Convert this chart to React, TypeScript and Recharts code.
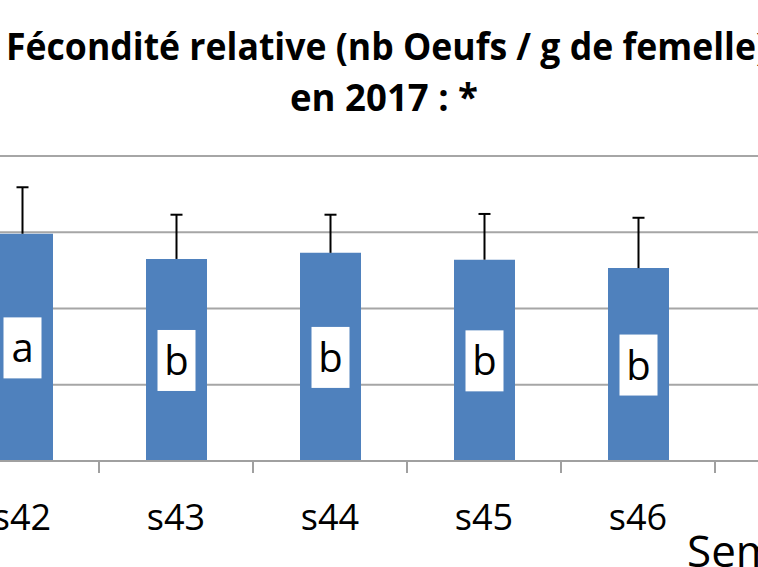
import React from "react";
import { BarChart, Bar, XAxis, YAxis, CartesianGrid, LabelList } from "recharts";

// semaines visibles
const weeks = ["s42", "s43", "s44", "s45", "s46"];
// fécondité relative moyenne (oeufs / g)
const means = [1490, 1325, 1365, 1320, 1265];
// écart-type (barre d'erreur, vers le haut seulement)
const errs = [305, 290, 250, 300, 330];
// groupes statistiques
const groups = ["a", "b", "b", "b", "b"];
const yTicks = [0, 500, 1000, 1500, 2000];

const data = weeks.map((w, i) => ({
  week: w,
  value: means[i],
  err: errs[i],
  grp: groups[i],
}));

const BAND = 154;
const FONT = "'Open Sans', 'Noto Sans', sans-serif";

const WeekTick = (props: any) => {
  const { x, y, payload } = props;
  return (
    <g>
      <line x1={x + BAND / 2} y1={y} x2={x + BAND / 2} y2={y + 12} stroke="#a0a0a0" strokeWidth={2} />
      <text x={x} y={y + 69} textAnchor="middle" fontFamily={FONT} fontSize={36} fill="#000">
        {payload.value}
      </text>
    </g>
  );
};

const ErrShape = (props: any) => {
  const { x, y, width, height } = props;
  if (!height) return null;
  const cx = x + width / 2;
  return (
    <g>
      <line x1={cx} y1={y + height} x2={cx} y2={y} stroke="#000" strokeWidth={2} />
      <line x1={cx - 6} y1={y} x2={cx + 6} y2={y} stroke="#000" strokeWidth={2} />
    </g>
  );
};

const GroupLabel = (props: any) => {
  const { x, y, width, height, value } = props;
  const cx = x + width / 2;
  const cy = y + height / 2;
  return (
    <g>
      <rect x={cx - 19} y={cy - 30} width={38} height={61} fill="#fff" />
      <text x={cx} y={cy + 15} textAnchor="middle" fontFamily={FONT} fontSize={40} fill="#000">
        {value}
      </text>
    </g>
  );
};

export default function App() {
  return (
    <div style={{ position: "absolute", left: 0, top: 0, width: 758, height: 567, overflow: "hidden", background: "#fff" }}>
      <svg width={758} height={130} style={{ position: "absolute", left: 0, top: 0 }}>
        <text x={387} y={59.5} textAnchor="middle" fontFamily={FONT} fontWeight="bold" fontSize={37} fill="#000" textLength={762} lengthAdjust="spacingAndGlyphs">
          Fécondité relative (nb Oeufs / g de femelle)
        </text>
        <text x={384} y={111} textAnchor="middle" fontFamily={FONT} fontWeight="bold" fontSize={37} fill="#000" textLength={188} lengthAdjust="spacingAndGlyphs">
          en 2017 : *
        </text>
      </svg>
      <div style={{ position: "absolute", left: -100, top: 0 }}>
        <BarChart width={920} height={567} data={data} margin={{ top: 156, right: 5, bottom: 0, left: 45 }}>
          <CartesianGrid vertical={false} stroke="#a6a6a6" strokeWidth={2} />
          <XAxis
            dataKey="week"
            height={106}
            padding={{ left: 0, right: 100 }}
            axisLine={{ stroke: "#a0a0a0", strokeWidth: 2 }}
            tickLine={false}
            tickSize={0}
            tickMargin={0}
            tick={<WeekTick />}
            interval={0}
          />
          <YAxis hide domain={[0, 2000]} ticks={yTicks} />
          <Bar dataKey="value" stackId="s" fill="#4f81bd" barSize={61} isAnimationActive={false}>
            <LabelList dataKey="grp" content={<GroupLabel />} />
          </Bar>
          <Bar dataKey="err" stackId="s" fill="none" barSize={61} shape={<ErrShape />} isAnimationActive={false} />
        </BarChart>
      </div>
      <div style={{ position: "absolute", left: 687, top: 521, fontFamily: FONT, fontSize: 44, lineHeight: 1.362, whiteSpace: "nowrap", color: "#000" }}>
        Semaine
      </div>
    </div>
  );
}
